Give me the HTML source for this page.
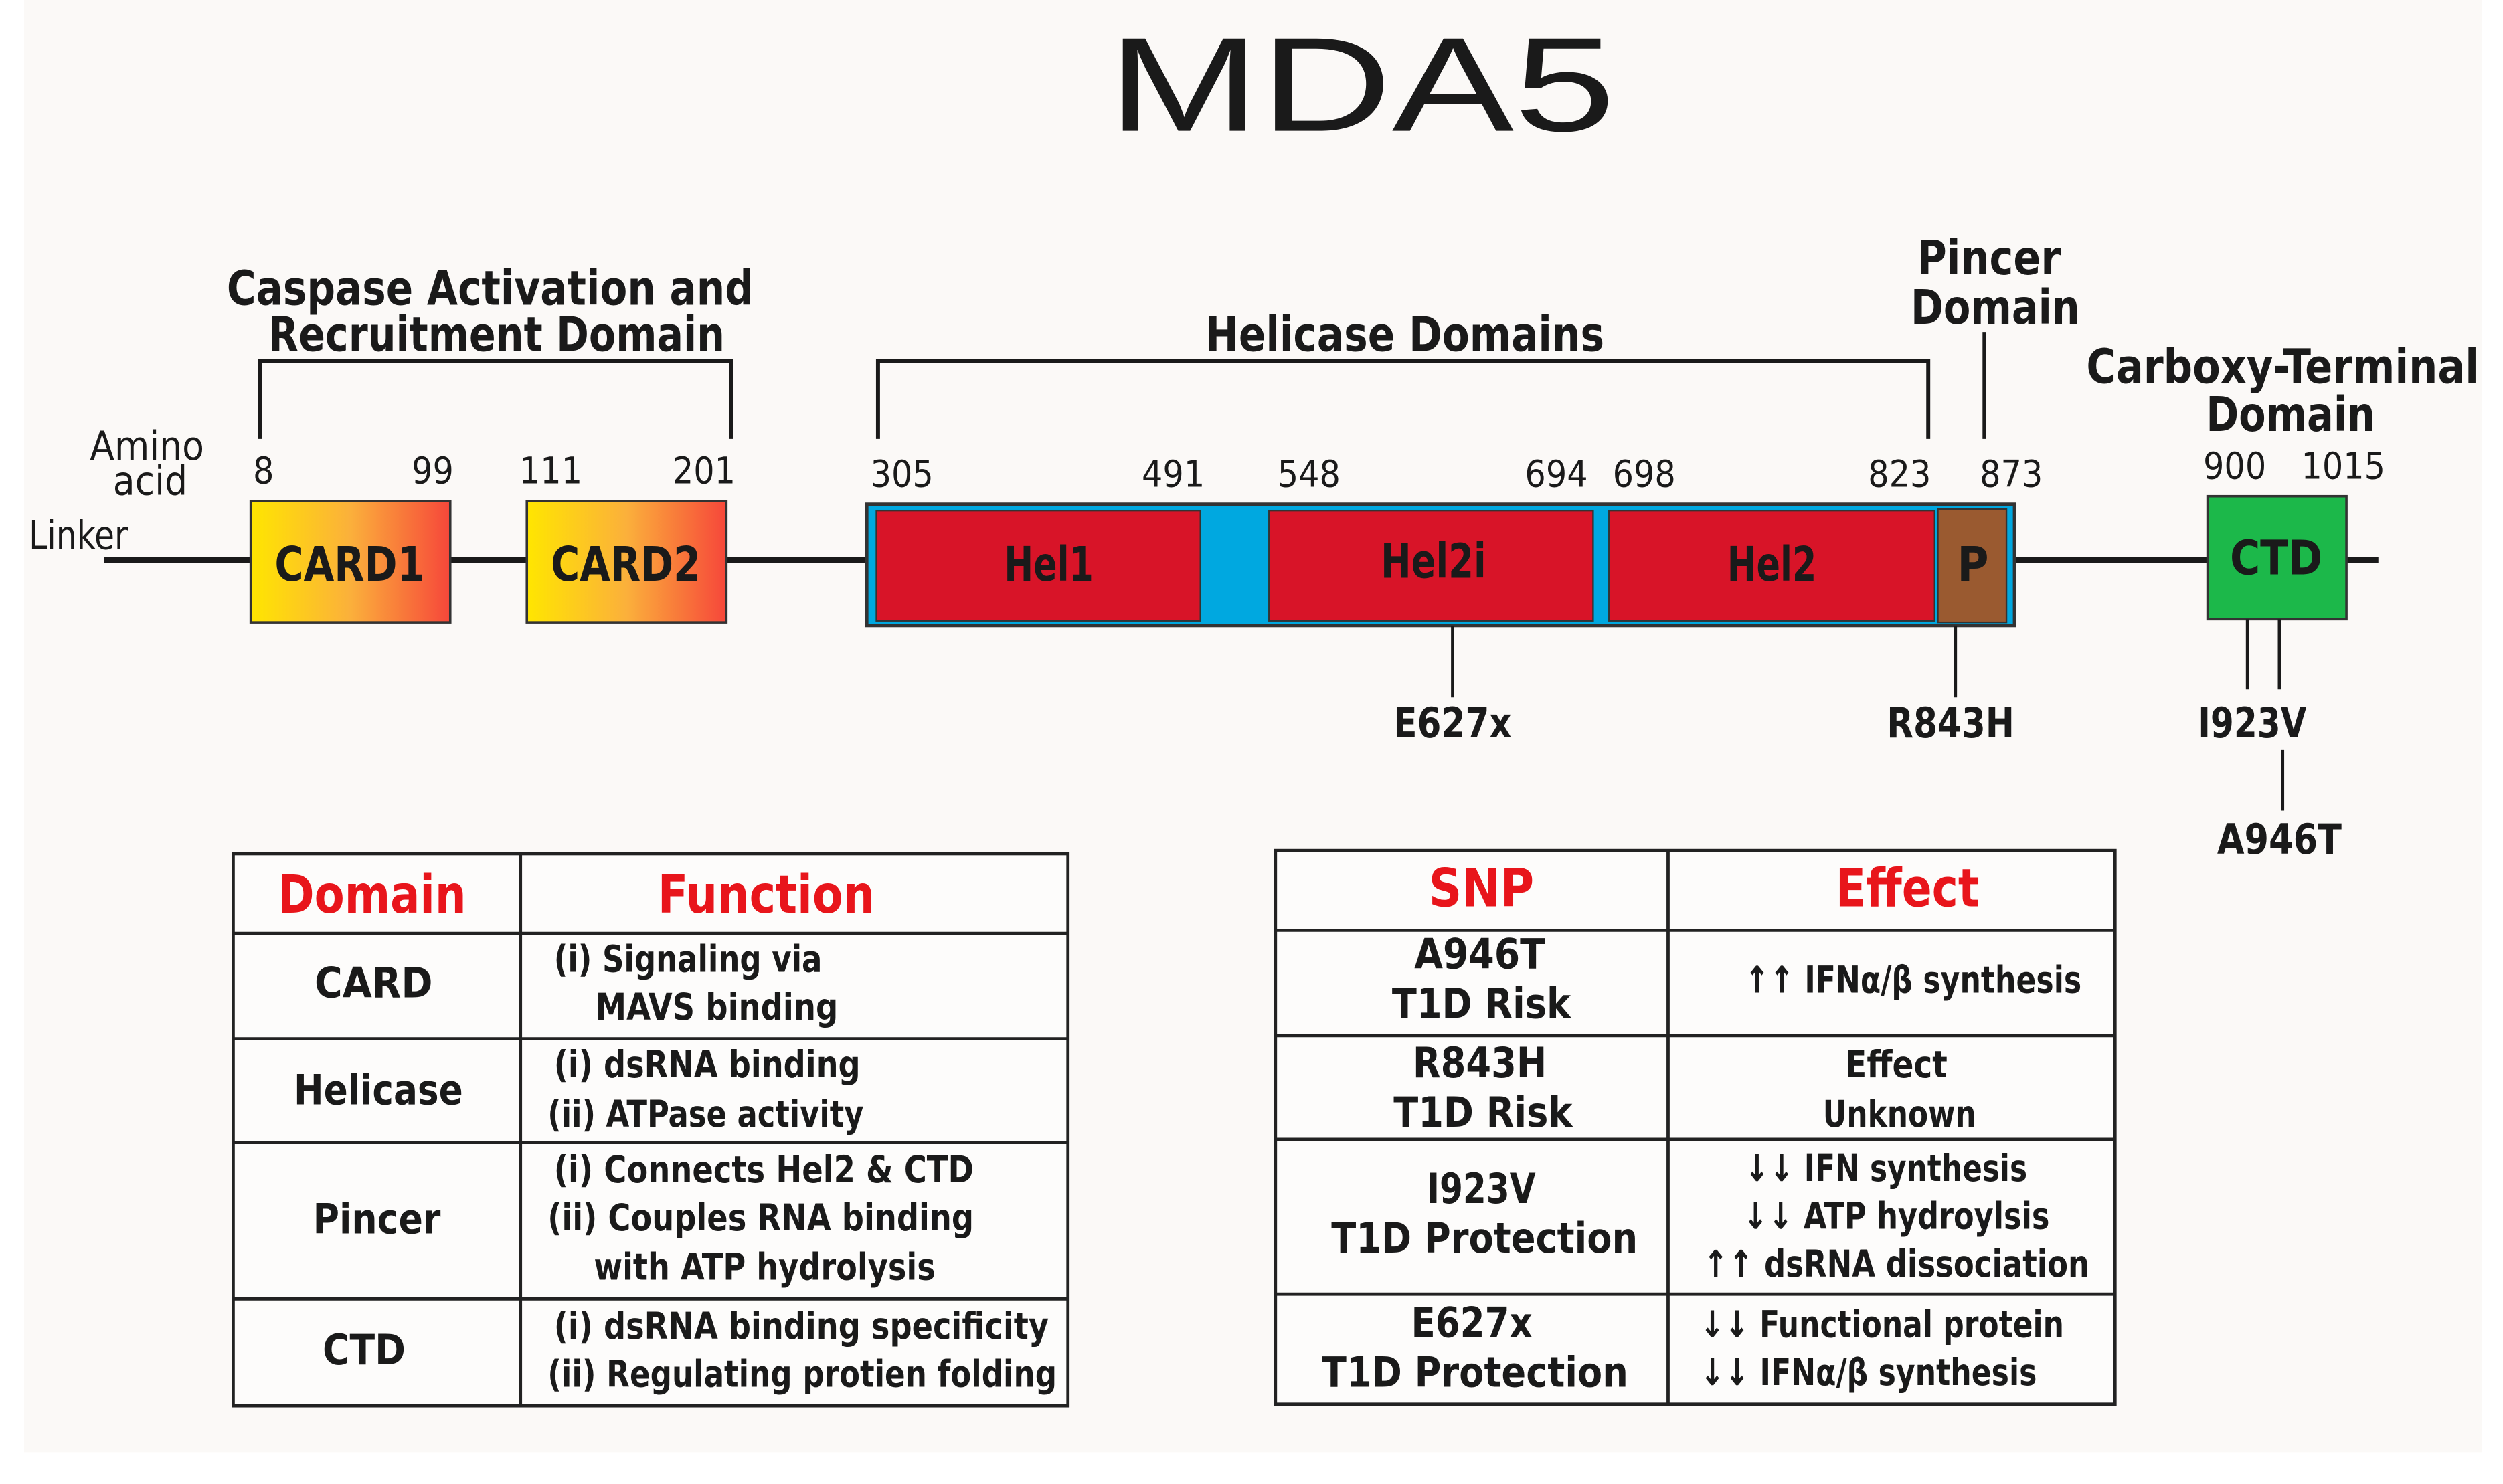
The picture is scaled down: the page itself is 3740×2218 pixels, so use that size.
<!DOCTYPE html>
<html><head><meta charset="utf-8"><style>
html,body{margin:0;padding:0;background:#fff}
svg{display:block}
text{font-family:"Liberation Sans Narrow","DejaVu Sans Condensed","Liberation Sans",sans-serif;font-weight:bold;fill:#1a1a1a}
.h{fill:#e8151b}
</style></head><body>
<svg width="3740" height="2218" viewBox="0 0 1568 930" xmlns="http://www.w3.org/2000/svg">
<defs><linearGradient id="g" x1="0" x2="1" y1="0" y2="0"><stop offset="0" stop-color="#ffe600"/><stop offset="0.5" stop-color="#fbb03b"/><stop offset="1" stop-color="#f6473a"/></linearGradient></defs>
<rect width="1568" height="930" fill="#fff"/>
<rect x="15" y="0" width="1540" height="910" fill="#fbf9f7"/>
<text x="853" y="82" text-anchor="middle" font-size="84" textLength="318" lengthAdjust="spacingAndGlyphs" style="font-family:'Liberation Sans',sans-serif;font-weight:normal">MDA5</text>
<g font-size="30" text-anchor="middle">
<text x="307" y="191" textLength="330" lengthAdjust="spacingAndGlyphs">Caspase Activation and</text>
<text x="311" y="220" textLength="286" lengthAdjust="spacingAndGlyphs">Recruitment Domain</text>
<text x="880" y="220" textLength="250" lengthAdjust="spacingAndGlyphs">Helicase Domains</text>
<text x="1246" y="172" textLength="90" lengthAdjust="spacingAndGlyphs">Pincer</text>
<text x="1250" y="203" textLength="106" lengthAdjust="spacingAndGlyphs">Domain</text>
<text x="1430" y="240" textLength="246" lengthAdjust="spacingAndGlyphs">Carboxy-Terminal</text>
<text x="1435" y="270" textLength="106" lengthAdjust="spacingAndGlyphs">Domain</text>
</g>
<g stroke="#1a1a1a" fill="none">
<path d="M163 275V226H458V275" stroke-width="2.5"/>
<path d="M550 275V226H1208V275" stroke-width="2.5"/>
<path d="M1243 208V275" stroke-width="2"/>
<path d="M65 351H1490" stroke-width="4"/>
</g>
<g font-size="23" text-anchor="middle">
<text x="165" y="303" style="font-weight:normal">8</text>
<text x="271" y="303" style="font-weight:normal">99</text>
<text x="345" y="303" style="font-weight:normal">111</text>
<text x="441" y="303" style="font-weight:normal">201</text>
<text x="565" y="305" style="font-weight:normal">305</text>
<text x="735" y="305" style="font-weight:normal">491</text>
<text x="820" y="305" style="font-weight:normal">548</text>
<text x="975" y="305" style="font-weight:normal">694</text>
<text x="1030" y="305" style="font-weight:normal">698</text>
<text x="1190" y="305" style="font-weight:normal">823</text>
<text x="1260" y="305" style="font-weight:normal">873</text>
<text x="1400" y="300" style="font-weight:normal">900</text>
<text x="1468" y="300" style="font-weight:normal">1015</text>
</g>
<g font-size="25" text-anchor="middle">
<text x="92" y="288" style="font-weight:normal">Amino</text>
<text x="94" y="310" style="font-weight:normal">acid</text>
<text x="49" y="344" style="font-weight:normal" textLength="62" lengthAdjust="spacingAndGlyphs">Linker</text>
</g>
<rect x="157" y="314" width="125" height="76" fill="url(#g)" stroke="#333" stroke-width="1.5"/>
<rect x="330" y="314" width="125" height="76" fill="url(#g)" stroke="#333" stroke-width="1.5"/>
<rect x="543" y="316" width="719" height="76" fill="#00a8e0" stroke="#333" stroke-width="2"/>
<rect x="549" y="320" width="203" height="69" fill="#d81428" stroke="#333" stroke-width="1"/>
<rect x="795" y="320" width="203" height="69" fill="#d81428" stroke="#333" stroke-width="1"/>
<rect x="1008" y="320" width="204" height="69" fill="#d81428" stroke="#333" stroke-width="1"/>
<rect x="1214" y="319" width="43" height="71" fill="#9a5a30" stroke="#333" stroke-width="1"/>
<rect x="1383" y="311" width="87" height="77" fill="#1cb84a" stroke="#333" stroke-width="1.5"/>
<g font-size="30" text-anchor="middle">
<text x="219" y="364" textLength="94" lengthAdjust="spacingAndGlyphs">CARD1</text>
<text x="392" y="364" textLength="94" lengthAdjust="spacingAndGlyphs">CARD2</text>
<text x="657" y="364" textLength="56" lengthAdjust="spacingAndGlyphs">Hel1</text>
<text x="898" y="362" textLength="66" lengthAdjust="spacingAndGlyphs">Hel2i</text>
<text x="1110" y="364" textLength="56" lengthAdjust="spacingAndGlyphs">Hel2</text>
<text x="1236" y="364">P</text>
<text x="1426" y="360" textLength="58" lengthAdjust="spacingAndGlyphs">CTD</text>
</g>
<g stroke="#1a1a1a" stroke-width="2">
<path d="M910 392V437M1225 392V437M1408 388V432M1428 388V432M1430 470V508"/>
</g>
<g font-size="26" text-anchor="middle">
<text x="910" y="462" textLength="74" lengthAdjust="spacingAndGlyphs">E627x</text>
<text x="1222" y="462" textLength="80" lengthAdjust="spacingAndGlyphs">R843H</text>
<text x="1411" y="462" textLength="68" lengthAdjust="spacingAndGlyphs">I923V</text>
<text x="1428" y="535" textLength="78" lengthAdjust="spacingAndGlyphs">A946T</text>
</g>
<g stroke="#222" stroke-width="2" fill="none">
<rect x="146" y="535" width="523" height="346" fill="#fdfcfb"/>
<path d="M326 535V881M146 585H669M146 651H669M146 716H669M146 814H669"/>
<rect x="799" y="533" width="526" height="347" fill="#fdfcfb"/>
<path d="M1045 533V880M799 583H1325M799 649H1325M799 714H1325M799 811H1325"/>
</g>
<g font-size="33" text-anchor="middle">
<text class="h" x="233" y="572" textLength="118" lengthAdjust="spacingAndGlyphs">Domain</text>
<text class="h" x="480" y="572" textLength="136" lengthAdjust="spacingAndGlyphs">Function</text>
<text class="h" x="928" y="568" textLength="66" lengthAdjust="spacingAndGlyphs">SNP</text>
<text class="h" x="1195" y="568" textLength="90" lengthAdjust="spacingAndGlyphs">Effect</text>
</g>
<g font-size="26" text-anchor="middle">
<text x="234" y="625" textLength="74" lengthAdjust="spacingAndGlyphs">CARD</text>
<text x="237" y="692" textLength="106" lengthAdjust="spacingAndGlyphs">Helicase</text>
<text x="236" y="773" textLength="80" lengthAdjust="spacingAndGlyphs">Pincer</text>
<text x="228" y="855" textLength="52" lengthAdjust="spacingAndGlyphs">CTD</text>
<text x="927" y="607" textLength="82" lengthAdjust="spacingAndGlyphs">A946T</text>
<text x="928" y="638" textLength="112" lengthAdjust="spacingAndGlyphs">T1D Risk</text>
<text x="927" y="675" textLength="84" lengthAdjust="spacingAndGlyphs">R843H</text>
<text x="929" y="706" textLength="112" lengthAdjust="spacingAndGlyphs">T1D Risk</text>
<text x="928" y="754" textLength="68" lengthAdjust="spacingAndGlyphs">I923V</text>
<text x="930" y="785" textLength="192" lengthAdjust="spacingAndGlyphs">T1D Protection</text>
<text x="922" y="838" textLength="76" lengthAdjust="spacingAndGlyphs">E627x</text>
<text x="924" y="869" textLength="192" lengthAdjust="spacingAndGlyphs">T1D Protection</text>
</g>
<g font-size="23">
<text x="347" y="609" textLength="168" lengthAdjust="spacingAndGlyphs">(i) Signaling via</text>
<text x="373" y="639" textLength="152" lengthAdjust="spacingAndGlyphs">MAVS binding</text>
<text x="347" y="675" textLength="192" lengthAdjust="spacingAndGlyphs">(i) dsRNA binding</text>
<text x="343" y="706" textLength="198" lengthAdjust="spacingAndGlyphs">(ii) ATPase activity</text>
<text x="347" y="741" textLength="263" lengthAdjust="spacingAndGlyphs">(i) Connects Hel2 &amp; CTD</text>
<text x="343" y="771" textLength="267" lengthAdjust="spacingAndGlyphs">(ii) Couples RNA binding</text>
<text x="372" y="802" textLength="214" lengthAdjust="spacingAndGlyphs">with ATP hydrolysis</text>
<text x="347" y="839" textLength="310" lengthAdjust="spacingAndGlyphs">(i) dsRNA binding specificity</text>
<text x="343" y="869" textLength="319" lengthAdjust="spacingAndGlyphs">(ii) Regulating protien folding</text>
<text x="1093" y="622" textLength="211" lengthAdjust="spacingAndGlyphs">↑↑ IFNα/β synthesis</text>
<text x="1188" y="675" text-anchor="middle" textLength="64" lengthAdjust="spacingAndGlyphs">Effect</text>
<text x="1190" y="706" text-anchor="middle" textLength="96" lengthAdjust="spacingAndGlyphs">Unknown</text>
<text x="1093" y="740" textLength="177" lengthAdjust="spacingAndGlyphs">↓↓ IFN synthesis</text>
<text x="1092" y="770" textLength="192" lengthAdjust="spacingAndGlyphs">↓↓ ATP hydroylsis</text>
<text x="1067" y="800" textLength="242" lengthAdjust="spacingAndGlyphs">↑↑ dsRNA dissociation</text>
<text x="1065" y="838" textLength="228" lengthAdjust="spacingAndGlyphs">↓↓ Functional protein</text>
<text x="1065" y="868" textLength="211" lengthAdjust="spacingAndGlyphs">↓↓ IFNα/β synthesis</text>
</g>
</svg>
</body></html>
